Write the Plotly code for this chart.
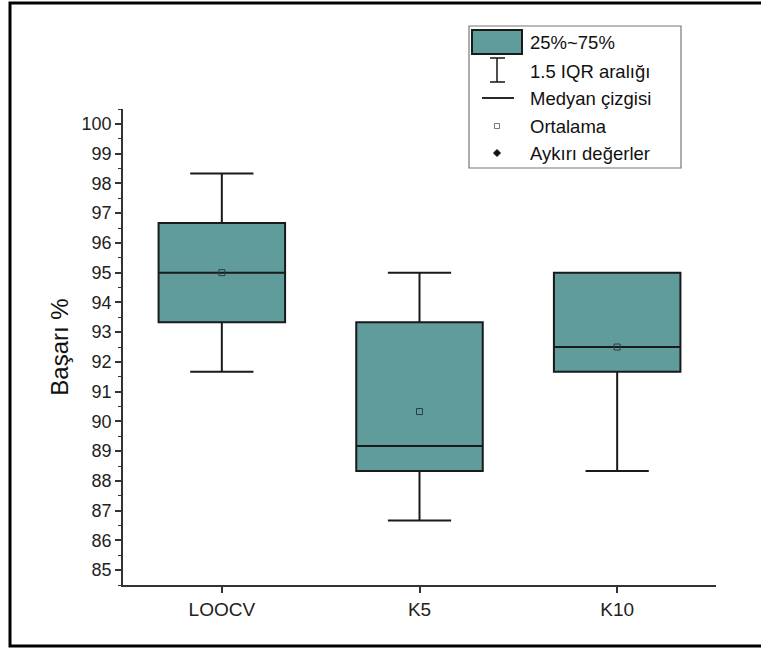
import plotly.graph_objects as go

# ---- data ----
categories = ["LOOCV", "K5", "K10"]
q1 = [93.33, 88.33, 91.67]
median = [95.0, 89.17, 92.5]
q3 = [96.67, 93.33, 95.0]
lower_whisker = [91.67, 86.67, 88.33]
upper_whisker = [98.33, 95.0, 95.0]
mean = [95.0, 90.33, 92.5]

legend_labels = ["25%~75%", "1.5 IQR aralığı", "Medyan çizgisi", "Ortalama", "Aykırı değerler"]
y_ticks = list(range(85, 101))

BOX_FILL = "#5f9c9b"
FONT = "Liberation Sans, Arial, sans-serif"

W, H = 761, 648
L, R, T, B = 123, 45, 109, 63
PW, PH = W - L - R, H - T - B

def px(x):
    return (x - L) / PW

def py(y):
    return (H - B - y) / PH

fig = go.Figure()
fig.add_trace(go.Box(
    x=categories, q1=q1, median=median, q3=q3,
    lowerfence=lower_whisker, upperfence=upper_whisker,
    fillcolor=BOX_FILL, line=dict(color="#1a1a1a", width=2),
    width=0.64, whiskerwidth=0.5, boxpoints=False, showlegend=False,
    hoverinfo="skip",
))
fig.add_trace(go.Scatter(
    x=categories, y=mean, mode="markers",
    marker=dict(symbol="square-open", size=6, color="#2b3f3f", line=dict(width=1)),
    showlegend=False, hoverinfo="skip",
))

shapes = []
annotations = []
# outer frame
shapes.append(dict(type="rect", xref="paper", yref="paper",
                   x0=px(10), x1=px(W + 5), y0=py(646), y1=py(3),
                   line=dict(color="black", width=3), fillcolor="rgba(0,0,0,0)", layer="below"))
# legend box
shapes.append(dict(type="rect", xref="paper", yref="paper",
                   x0=px(469), x1=px(681), y0=py(168), y1=py(26),
                   line=dict(color="#777777", width=1.2), fillcolor="white"))
# legend patch
shapes.append(dict(type="rect", xref="paper", yref="paper",
                   x0=px(472), x1=px(522), y0=py(54), y1=py(30),
                   line=dict(color="#1a1a1a", width=2), fillcolor=BOX_FILL))
# I-beam
for seg in [(497, 58, 497, 82), (490, 58, 505, 58), (490, 82, 505, 82)]:
    shapes.append(dict(type="line", xref="paper", yref="paper",
                       x0=px(seg[0]), y0=py(seg[1]), x1=px(seg[2]), y1=py(seg[3]),
                       line=dict(color="#222222", width=1.6)))
# median line
shapes.append(dict(type="line", xref="paper", yref="paper",
                   x0=px(482), y0=py(98), x1=px(514), y1=py(98),
                   line=dict(color="#111111", width=1.8)))
# mean square
shapes.append(dict(type="rect", xref="paper", yref="paper",
                   x0=px(494.5), x1=px(499.5), y0=py(128.5), y1=py(123.5),
                   line=dict(color="#777777", width=1), fillcolor="white"))
# outlier diamond
shapes.append(dict(type="path", xref="paper", yref="paper",
                   path=f"M {px(497)} {py(149.5)} L {px(500.5)} {py(153)} L {px(497)} {py(156.5)} L {px(493.5)} {py(153)} Z",
                   line=dict(color="#111111", width=1), fillcolor="#111111"))

legend_y = [42, 71, 98, 126, 153]
for lab, yy in zip(legend_labels, legend_y):
    annotations.append(dict(xref="paper", yref="paper", x=px(528), y=py(yy),
                            text=lab, showarrow=False, xanchor="left", yanchor="middle",
                            font=dict(family=FONT, size=18.5, color="#111111")))

fig.update_layout(
    width=W, height=H,
    margin=dict(l=L, r=R, t=T, b=B),
    paper_bgcolor="white", plot_bgcolor="white",
    font=dict(family=FONT, size=17, color="#222222"),
    shapes=shapes, annotations=annotations,
    xaxis=dict(
        range=[-0.5, 2.5], showline=True, linecolor="#333333", linewidth=1.5,
        ticks="outside", ticklen=6, tickwidth=1.5, tickcolor="#333333",
        showgrid=False, zeroline=False, tickfont=dict(size=19),
    ),
    yaxis=dict(
        range=[84.5, 100.5], showline=True, linecolor="#333333", linewidth=1.5,
        tickmode="array", tickvals=y_ticks, ticktext=[str(v) for v in y_ticks],
        ticks="outside", ticklen=6, tickwidth=1.5, tickcolor="#333333",
        minor=dict(ticks="outside", ticklen=3, tickwidth=1.2, tickcolor="#333333", dtick=0.5, tick0=84.5, showgrid=False),
        showgrid=False, zeroline=False, tickfont=dict(size=18),
        title=dict(text="Başarı %", font=dict(size=24, color="#111111"), standoff=6),
    ),
)

fig.write_html("out.html")
